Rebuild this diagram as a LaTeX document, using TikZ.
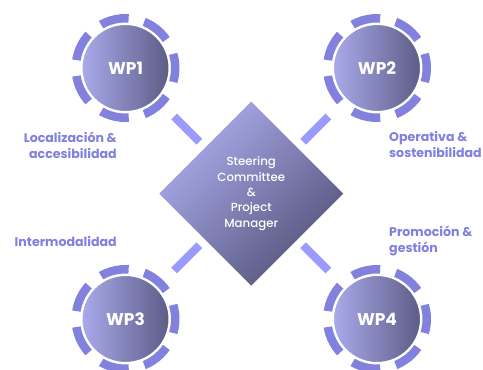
\documentclass[tikz,border=0pt]{standalone}
\usepackage{fontspec}
\setmainfont{Poppins}
\newfontfamily\popmed{Poppins Medium}
\usetikzlibrary{shapes.geometric}
\definecolor{ringc}{RGB}{130,130,222}
\definecolor{barc}{RGB}{155,155,255}
\definecolor{labc}{RGB}{128,128,224}
\definecolor{cl}{RGB}{170,170,236}
\definecolor{cd}{RGB}{92,92,134}
\definecolor{dl}{RGB}{172,172,238}
\definecolor{dd}{RGB}{84,84,122}
\begin{document}
\begin{tikzpicture}[x=1pt,y=-1pt,
 wp/.style={circle, minimum size=88pt, inner sep=0pt, outer sep=0pt, draw=white, line width=2pt, left color=cl, right color=cd, text=white, font=\bfseries\fontsize{17}{20}\selectfont},
 hub/.style={diamond, minimum width=184pt, minimum height=184pt, inner sep=0pt, outer sep=0pt, top color=dl, bottom color=dd, shading angle=45, text=white, align=center, font=\popmed\fontsize{11.8}{15.3}\selectfont},
 ring/.style={draw=ringc, line width=8.5pt, dash pattern=on 28.65pt off 16.01pt, dash phase=14.33pt},
 bar/.style={draw=barc, line width=8pt, shorten <=24.6pt, shorten >=8.2pt},
 lab/.style={text=labc, font=\bfseries\fontsize{12.6}{16}\selectfont, inner sep=0pt}
]
\fill[white] (0,0) rectangle (483,370);
\useasboundingbox (0,0) rectangle (483,370);

\node[hub] (hub) at (251.25,193.5) {Steering\\Committee\\\&\\Project\\Manager};
\node[wp] (wp1) at (125.5,68) {WP1};
\node[wp] (wp2) at (377,68) {WP2};
\node[wp] (wp3) at (125.5,319) {WP3};
\node[wp] (wp4) at (377,319) {WP4};

\foreach \w in {wp1,wp2,wp3,wp4}{
  \draw[ring] (\w.center) circle[radius=49.75pt];
  \draw[bar] (\w) -- (hub);
}

\node[lab, anchor=east, align=right] (l1) at (117,145) {Localización \&\\accesibilidad};
\node[lab, anchor=west, align=left] (l2) at (389,145) {Operativa \&\\sostenibilidad};
\node[lab, anchor=east] (l3) at (117,241.7) {Intermodalidad};
\node[lab, anchor=west, align=left] (l4) at (389,240.5) {Promoción \&\\gestión};
\end{tikzpicture}
\end{document}
